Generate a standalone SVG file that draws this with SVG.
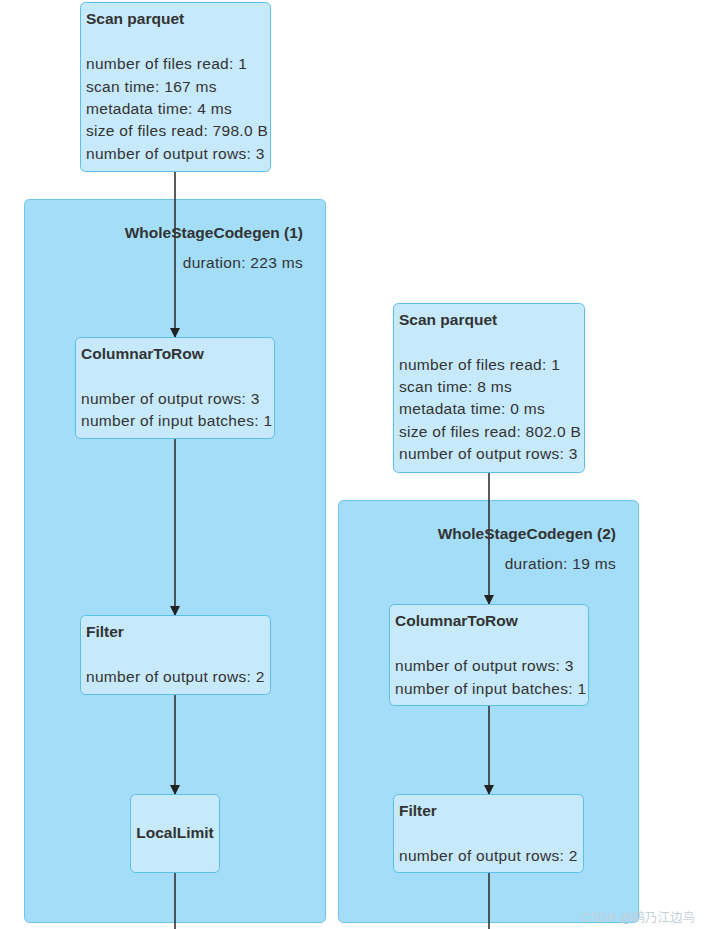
<svg xmlns="http://www.w3.org/2000/svg" width="706" height="929" viewBox="0 0 706 929">
<style>
.cluster{fill:#a4ddf8;stroke:#6cc3ec;stroke-width:1}
.node{fill:#c6e9fb;stroke:#5bbfea;stroke-width:1}
text{font-family:"Liberation Sans",Arial,sans-serif;font-size:15.5px;letter-spacing:0.3px;fill:#333}
.b{font-weight:bold;letter-spacing:0}
.edge{stroke:#333;stroke-width:1.6;fill:none}
.wm{font-family:"Liberation Sans","Noto Sans CJK SC",sans-serif;font-size:12.5px;letter-spacing:0;fill:#c3d0d6}
</style>
<defs>
<marker id="arrow" markerWidth="10" markerHeight="10" refX="9" refY="5" orient="auto" markerUnits="userSpaceOnUse">
<path d="M0,0 L10,5 L0,10 z" fill="#222"/>
</marker>
</defs>
<rect width="706" height="929" fill="#ffffff"/>
<g id="cluster1">
<rect class="cluster" x="24.5" y="199.5" width="301" height="723" rx="5"/>
<text class="b" x="303" y="238" text-anchor="end">WholeStageCodegen (1)</text>
<text x="303" y="268" text-anchor="end">duration: 223 ms</text>
</g>
<g id="cluster2">
<rect class="cluster" x="338.5" y="500.5" width="300" height="422" rx="5"/>
<text class="b" x="616" y="539" text-anchor="end">WholeStageCodegen (2)</text>
<text x="616" y="569" text-anchor="end">duration: 19 ms</text>
</g>
<g id="connectors">
<line class="edge" x1="175" y1="172" x2="175" y2="337" marker-end="url(#arrow)"/>
<line class="edge" x1="175" y1="439" x2="175" y2="615" marker-end="url(#arrow)"/>
<line class="edge" x1="175" y1="695" x2="175" y2="794" marker-end="url(#arrow)"/>
<line class="edge" x1="175" y1="873" x2="175" y2="929"/>
<line class="edge" x1="489" y1="473" x2="489" y2="604" marker-end="url(#arrow)"/>
<line class="edge" x1="489" y1="706" x2="489" y2="794" marker-end="url(#arrow)"/>
<line class="edge" x1="489" y1="873" x2="489" y2="929"/>
</g>
<g id="scan1">
<rect class="node" x="80.5" y="2.5" width="190" height="169" rx="5"/>
<text class="b" x="86" y="24">Scan parquet</text>
<text x="86" y="69">number of files read: 1</text>
<text x="86" y="92">scan time: 167 ms</text>
<text x="86" y="114">metadata time: 4 ms</text>
<text x="86" y="136">size of files read: 798.0 B</text>
<text x="86" y="159">number of output rows: 3</text>
</g>
<g id="c2r1">
<rect class="node" x="75.5" y="337.5" width="199" height="101" rx="5"/>
<text class="b" x="81" y="359">ColumnarToRow</text>
<text x="81" y="404">number of output rows: 3</text>
<text x="81" y="426">number of input batches: 1</text>
</g>
<g id="filter1">
<rect class="node" x="80.5" y="615.5" width="190" height="79" rx="5"/>
<text class="b" x="86" y="637">Filter</text>
<text x="86" y="682">number of output rows: 2</text>
</g>
<g id="locallimit">
<rect class="node" x="130.5" y="794.5" width="89" height="78" rx="5"/>
<text class="b" x="175" y="838" text-anchor="middle">LocalLimit</text>
</g>
<g id="scan2">
<rect class="node" x="393.5" y="303.5" width="191" height="169" rx="5"/>
<text class="b" x="399" y="325">Scan parquet</text>
<text x="399" y="370">number of files read: 1</text>
<text x="399" y="392">scan time: 8 ms</text>
<text x="399" y="414">metadata time: 0 ms</text>
<text x="399" y="437">size of files read: 802.0 B</text>
<text x="399" y="459">number of output rows: 3</text>
</g>
<g id="c2r2">
<rect class="node" x="389.5" y="604.5" width="199" height="101" rx="5"/>
<text class="b" x="395" y="626">ColumnarToRow</text>
<text x="395" y="671">number of output rows: 3</text>
<text x="395" y="694">number of input batches: 1</text>
</g>
<g id="filter2">
<rect class="node" x="393.5" y="794.5" width="190" height="78" rx="5"/>
<text class="b" x="399" y="816">Filter</text>
<text x="399" y="861">number of output rows: 2</text>
</g>
<text class="wm" x="581" y="922">CSDN @鸥乃江边鸟</text>
</svg>
